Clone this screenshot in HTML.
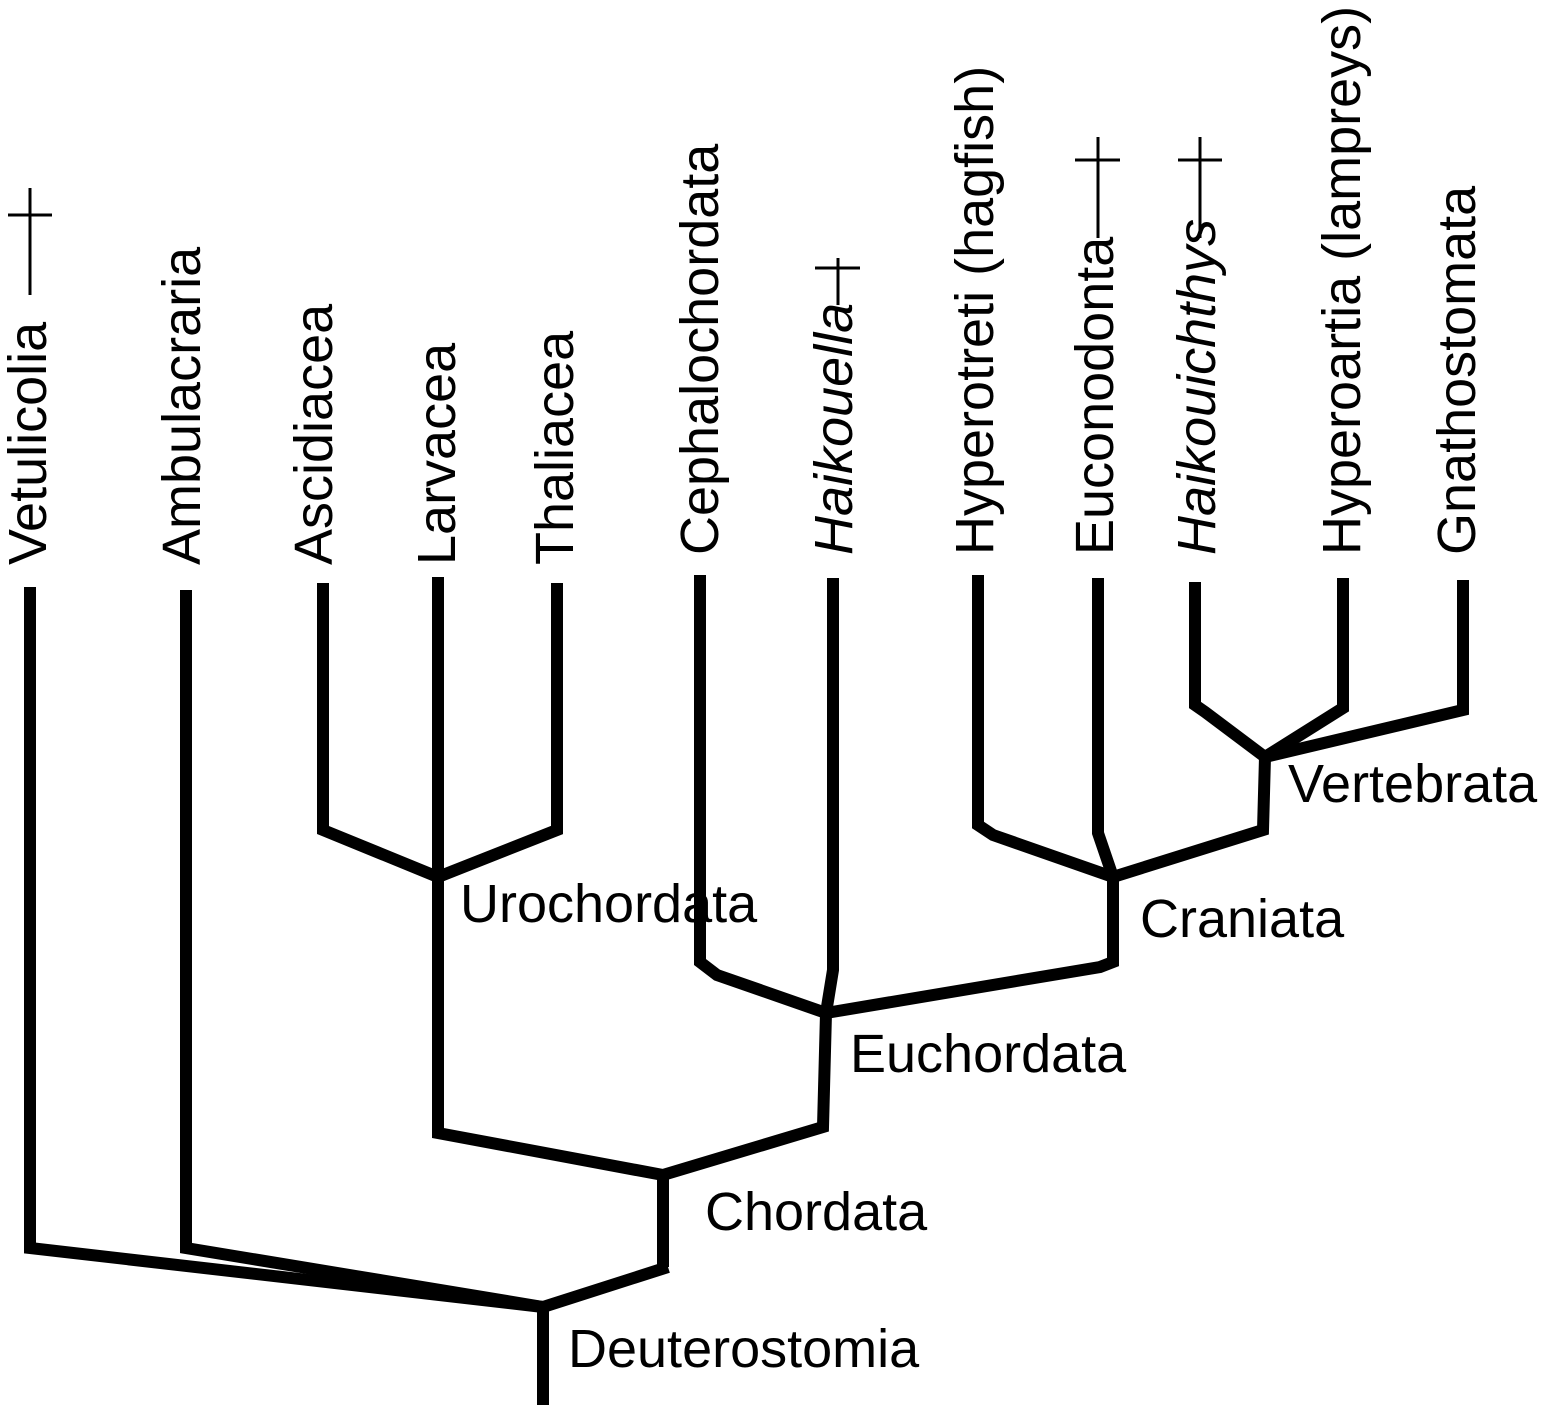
<!DOCTYPE html>
<html><head><meta charset="utf-8"><style>html,body{margin:0;padding:0;background:#fff}svg{display:block}</style></head>
<body>
<svg width="1550" height="1408" viewBox="0 0 1550 1408" xmlns="http://www.w3.org/2000/svg">
<g fill="none" stroke="#000" stroke-width="12" stroke-linejoin="miter">
<polyline points="30,587 30,1248 543,1307"/>
<polyline points="186,590 186,1248 543,1307"/>
<polyline points="543,1405 543,1307 668,1267"/>
<polyline points="663,1267 663,1175"/>
<polyline points="438,577 438,1133 663,1175 823,1127 826,1013"/>
<polyline points="323,583 323,830 438,877 557,830 557,583"/>
<polyline points="700,575 700,962 717,975 826,1013"/>
<polyline points="833,578 833,970 826,1013"/>
<polyline points="826,1013 1100,967 1113,962 1113,877"/>
<polyline points="978,575 978,825 993,835 1113,877"/>
<polyline points="1098,578 1098,833 1113,877"/>
<polyline points="1113,877 1263,830 1265,757"/>
<polyline points="1195,582 1195,705 1205,712 1265,757"/>
<polyline points="1343,578 1343,708 1265,757"/>
<polyline points="1463,580 1463,710 1265,757"/>
</g>
<g stroke="#000" stroke-width="3">
<line x1="30" y1="188" x2="30" y2="295"/><line x1="8" y1="215" x2="52" y2="215"/>
<line x1="838" y1="258" x2="838" y2="305"/><line x1="815" y1="268" x2="860" y2="268"/>
<line x1="1098" y1="137" x2="1098" y2="238"/><line x1="1075" y1="160" x2="1120" y2="160"/>
<line x1="1200" y1="137" x2="1200" y2="238"/><line x1="1178" y1="160" x2="1222" y2="160"/>
</g>
<g font-family="Liberation Sans, sans-serif" font-size="54" fill="#000">
<text transform="translate(46,565) rotate(-90)">Vetulicolia</text>
<text transform="translate(200,565) rotate(-90)">Ambulacraria</text>
<text transform="translate(332,565) rotate(-90)">Ascidiacea</text>
<text transform="translate(455,565) rotate(-90)">Larvacea</text>
<text transform="translate(573,565) rotate(-90)">Thaliacea</text>
<text transform="translate(718,555) rotate(-90)">Cephalochordata</text>
<text transform="translate(852,555) rotate(-90)" font-style="italic">Haikouella</text>
<text transform="translate(993,555) rotate(-90)">Hyperotreti (hagfish)</text>
<text transform="translate(1113,555) rotate(-90)">Euconodonta</text>
<text transform="translate(1215,555) rotate(-90)" font-style="italic">Haikouichthys</text>
<text transform="translate(1360,555) rotate(-90)">Hyperoartia (lampreys)</text>
<text transform="translate(1475,555) rotate(-90)">Gnathostomata</text>
<text x="460" y="922">Urochordata</text>
<text x="1140" y="937">Craniata</text>
<text x="1288" y="802">Vertebrata</text>
<text x="850" y="1072">Euchordata</text>
<text x="705" y="1230">Chordata</text>
<text x="568" y="1367">Deuterostomia</text>
</g>
</svg>
</body></html>
